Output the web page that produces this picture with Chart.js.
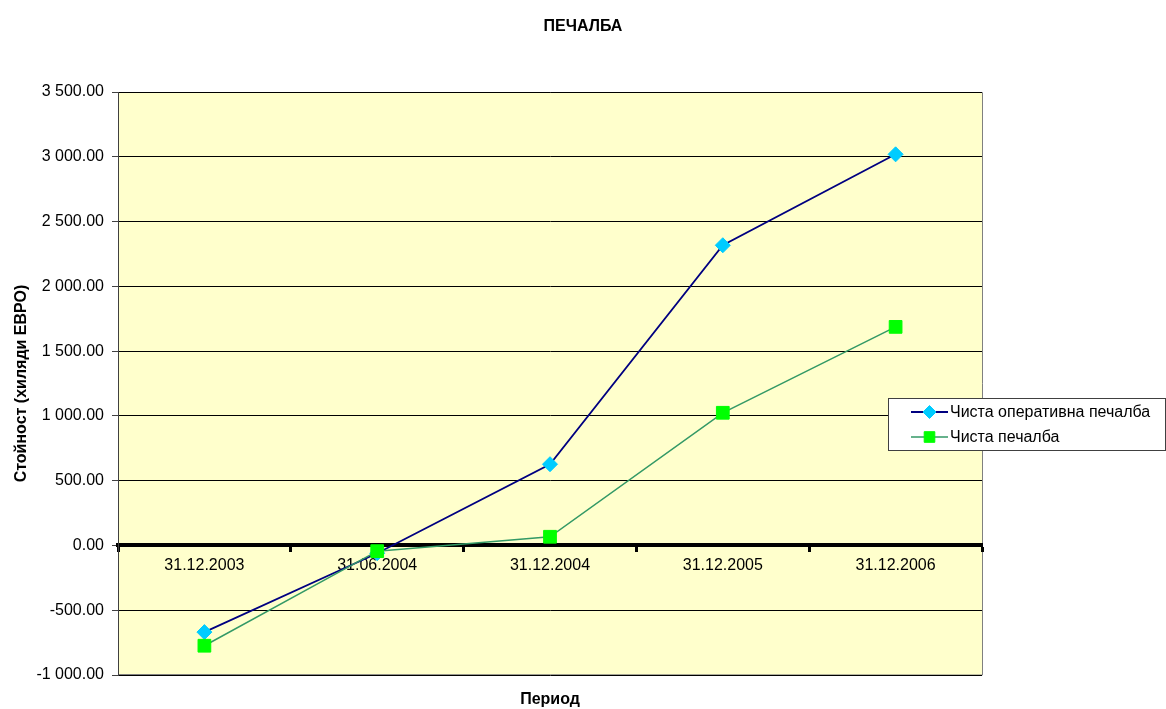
<!DOCTYPE html>
<html>
<head>
<meta charset="utf-8">
<script src="https://cdn.jsdelivr.net/npm/chart.js@4/dist/chart.umd.min.js"></script>
<style>
  html, body { margin: 0; padding: 0; background: #ffffff; }
  #wrap { width: 1166px; height: 709px; position: relative; }
</style>
</head>
<body>
<div id="wrap"><canvas id="chart"></canvas></div>
<script>
// Periods and profit figures (thousand EUR)
const periods = ['31.12.2003', '31.06.2004', '31.12.2004', '31.12.2005', '31.12.2006'];
const operatingProfit = [-669, -60, 627, 2317, 3019];
const netProfit = [-774, -44, 67, 1024, 1687];
const seriesNames = ['Чиста оперативна печалба', 'Чиста печалба'];
const chartTitle = 'ПЕЧАЛБА';
const xTitle = 'Период';
const yTitle = 'Стойност (хиляди ЕВРО)';
const yMin = -1000, yMax = 3500, yStep = 500;

const FONT = '"Liberation Sans", Arial, sans-serif';

function fmt(v) {
  const neg = v < 0;
  const s = Math.abs(v).toFixed(2);
  const [i, d] = s.split('.');
  const grouped = i.replace(/\B(?=(\d{3})+(?!\d))/g, ' ');
  return (neg ? '-' : '') + grouped + '.' + d;
}

const seriesStyle = [
  { line: '#000080', fill: '#00CCFF', style: 'rectRot', radius: 7.5, width: 1.8, order: 1 },
  { line: '#339966', fill: '#00FF00', style: 'rect', radius: 9, width: 1.5, order: 0 }
];

// Plot background and frame
const plotFrame = {
  id: 'plotFrame',
  beforeDraw(chart) {
    const { ctx, chartArea: a } = chart;
    ctx.save();
    ctx.fillStyle = '#FFFFCC';
    ctx.fillRect(a.left, a.top, a.right - a.left, a.bottom - a.top);
    ctx.strokeStyle = '#808080';
    ctx.lineWidth = 1;
    ctx.beginPath();
    ctx.moveTo(a.left, a.top + 0.5);
    ctx.lineTo(a.right + 0.5, a.top + 0.5);
    ctx.lineTo(a.right + 0.5, a.bottom);
    ctx.lineTo(a.left, a.bottom - 0.5);
    ctx.stroke();
    ctx.restore();
  }
};

// Titles and legend box
const decorations = {
  id: 'decorations',
  afterDraw(chart) {
    const { ctx, chartArea: a } = chart;
    ctx.save();
    ctx.fillStyle = '#000';
    ctx.textAlign = 'center';
    ctx.textBaseline = 'middle';
    ctx.font = 'bold 16px ' + FONT;
    ctx.fillText(chartTitle, 583, 27);
    ctx.fillText(xTitle, (a.left + a.right) / 2, 700);

    // legend
    const lx = 888.5, ly = 398.5, lw = 277, lh = 52;
    ctx.fillStyle = '#ffffff';
    ctx.fillRect(lx, ly, lw, lh);
    ctx.strokeStyle = '#404040';
    ctx.lineWidth = 1;
    ctx.strokeRect(lx, ly, lw, lh);
    const rows = [412, 437];
    ctx.font = '16px ' + FONT;
    ctx.textAlign = 'left';
    rows.forEach((y, i) => {
      const s = seriesStyle[i];
      ctx.strokeStyle = s.line;
      ctx.lineWidth = s.width;
      ctx.beginPath();
      ctx.moveTo(911, y);
      ctx.lineTo(948, y);
      ctx.stroke();
      ctx.fillStyle = s.fill;
      ctx.strokeStyle = s.fill;
      ctx.lineWidth = 1;
      const r = i === 0 ? 6.5 : 7.5;
      Chart.helpers.drawPoint(ctx, { pointStyle: s.style, rotation: 0, radius: r, borderWidth: 1 }, 929.5, y);
      ctx.fillStyle = '#000';
      ctx.fillText(seriesNames[i], 950, y + 1);
    });
    ctx.restore();
  }
};

const datasetsSrc = [operatingProfit, netProfit];

new Chart(document.getElementById('chart'), {
  type: 'line',
  data: {
    labels: periods,
    datasets: datasetsSrc.map((vals, i) => ({
      label: seriesNames[i],
      data: vals,
      order: seriesStyle[i].order,
      borderColor: seriesStyle[i].line,
      borderWidth: seriesStyle[i].width,
      backgroundColor: seriesStyle[i].fill,
      pointStyle: seriesStyle[i].style,
      pointRadius: seriesStyle[i].radius,
      pointHoverRadius: seriesStyle[i].radius,
      pointBackgroundColor: seriesStyle[i].fill,
      pointBorderColor: seriesStyle[i].fill,
      pointBorderWidth: 1,
      tension: 0,
      fill: false
    }))
  },
  options: {
    responsive: true,
    maintainAspectRatio: false,
    animation: false,
    layout: { padding: { top: 92, right: 184, bottom: 34, left: 0 } },
    plugins: {
      legend: { display: false },
      title: { display: false },
      tooltip: { enabled: false }
    },
    scales: {
      x: {
        type: 'category',
        position: { y: 0 },
        offset: true,
        grid: {
          offset: true,
          drawOnChartArea: false,
          drawTicks: true,
          tickLength: 5,
          tickWidth: 3,
          tickColor: '#000'
        },
        border: { display: true, color: '#000', width: 4 },
        ticks: {
          color: '#000',
          font: { family: FONT, size: 16 },
          padding: 6,
          maxRotation: 0,
          autoSkip: false
        }
      },
      y: {
        min: yMin,
        max: yMax,
        afterFit(scale) { scale.width = 118; },
        grid: {
          color: '#000',
          lineWidth: 1,
          drawTicks: true,
          tickLength: 6,
          tickColor: '#404040'
        },
        border: { display: true, color: '#404040', width: 1 },
        ticks: {
          stepSize: yStep,
          color: '#000',
          padding: 8,
          font: { family: FONT, size: 16 },
          callback: (v) => fmt(v)
        },
        title: {
          display: true,
          text: yTitle,
          color: '#000',
          font: { family: FONT, size: 16, weight: 'bold' },
          padding: { top: 12, bottom: 0 }
        }
      }
    }
  },
  plugins: [plotFrame, decorations]
});
</script>
</body>
</html>
